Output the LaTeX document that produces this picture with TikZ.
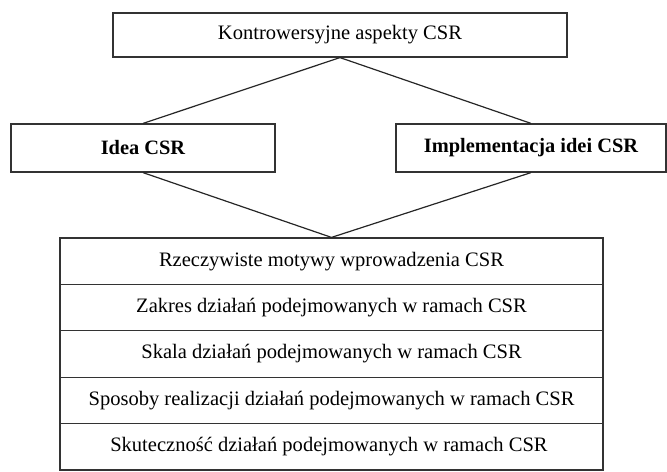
\documentclass[tikz,border=0pt]{standalone}
\usepackage{fontspec}
\setmainfont{Liberation Serif}
\usetikzlibrary{positioning}

\tikzset{
	box/.style={draw=black!80, line width=0.9pt, inner sep=0pt, align=center, font=\fontsize{15.4}{18}\selectfont},
	headbox/.style={box, font=\fontsize{15.3}{18}\selectfont\bfseries},
	link/.style={draw=black!85, line width=0.9pt},
}

\begin{document}
\begin{tikzpicture}[x=0.75pt, y=-0.75pt]
		\useasboundingbox (0,0) rectangle (667,471);
		\node[box, minimum width=340.5pt, minimum height=33pt] (root) at (340,35) {Kontrowersyjne aspekty CSR};
		\node[headbox, minimum width=198pt, minimum height=36pt] (idea) at (143,148) {Idea CSR};
		\node[headbox, minimum width=202.5pt, minimum height=36pt] (impl) at (531,148) {Implementacja idei CSR};
		\foreach \n/\t in{
				1/Rzeczywiste motywy wprowadzenia CSR,
				2/Zakres działań podejmowanych w ramach CSR,
				3/Skala działań podejmowanych w ramach CSR,
				4/Sposoby realizacji działań podejmowanych w ramach CSR,
				5/Skuteczność działań podejmowanych w ramach CSR
		}{
		\pgfmathsetmacro{\cy}{238+46.4*(\n-0.5)}
		\node[box, minimum width=407.25pt, minimum height=34.8pt] (row\n) at (331.5,\cy) {\t};
		}
		\draw[link] (root.south) -- (idea.north);
		\draw[link] (root.south) -- (impl.north);
		\draw[link] (idea.south) -- (row1.north);
		\draw[link] (impl.south) -- (row1.north);
\end{tikzpicture}
\end{document}
